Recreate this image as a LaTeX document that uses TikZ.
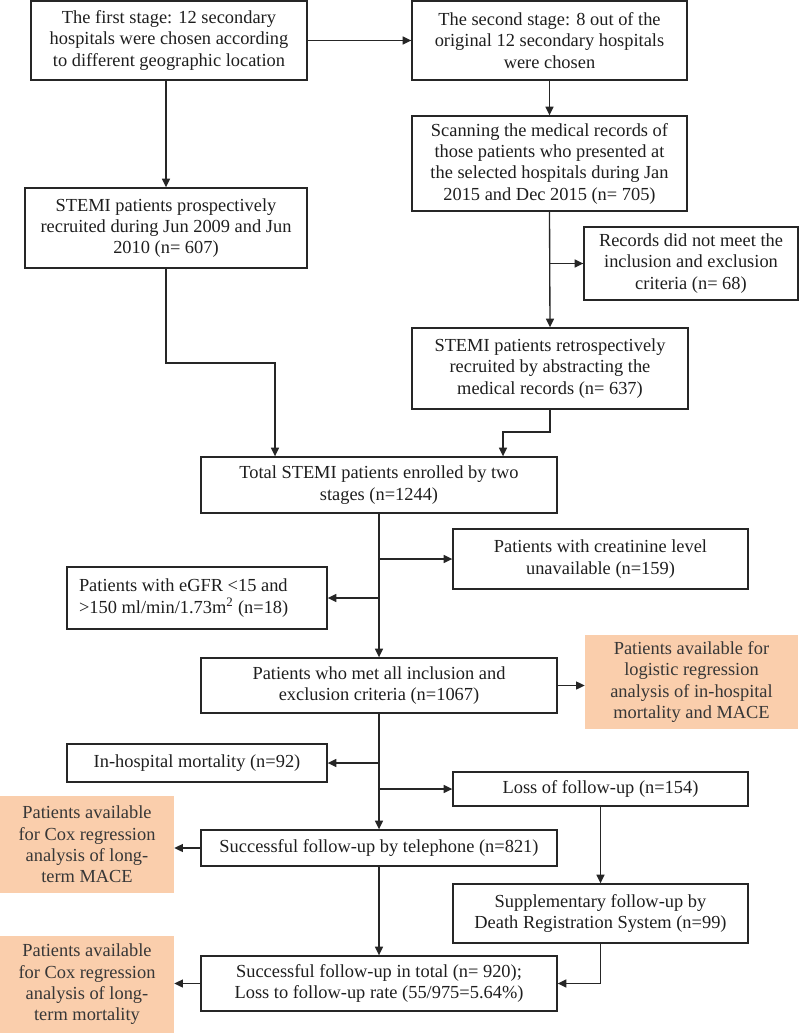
\documentclass[tikz,border=0pt]{standalone}
\usepackage{fontspec}
\setmainfont{Liberation Serif}
\usetikzlibrary{arrows.meta}
\definecolor{peach}{RGB}{250,206,172}
\definecolor{txt}{RGB}{30,30,30}
\definecolor{otxt}{RGB}{55,55,55}
\newcommand{\fbx}[7]{%
  \node[#6, minimum width={(#4-#2)*0.75pt}, minimum height={(#5-#3)*0.75pt}]
    (#1) at ({(#2+#4)/2},{(#3+#5)/2}) {#7};}
\tikzset{
  box/.style={draw=black!85, line width=1pt, inner sep=0pt, align=center, text=txt,
    font=\fontsize{13.8}{16}\selectfont},
  obox/.style={fill=peach, draw=none, inner sep=0pt, align=center, text=otxt,
    font=\fontsize{13.8}{16}\selectfont},
  arr/.style={draw=black!85, line width=1pt, -{Triangle[length=6.5pt,width=6pt]}}
}
\begin{document}
\begin{tikzpicture}[x=0.75pt,y=-0.75pt]
\useasboundingbox (0,0) rectangle (800,1034);
\fbx{b1}{31}{1}{307}{80}{box}{The first stage: 12 secondary\\hospitals were chosen according\\to different geographic location}
\fbx{b2}{412}{1}{687}{80}{box}{The second stage: 8 out of the\\original 12 secondary hospitals\\were chosen}
\fbx{b3}{412}{116}{687}{211}{box}{Scanning the medical records of\\those patients who presented at\\the selected hospitals during Jan\\2015 and Dec 2015 (n= 705)}
\fbx{b4}{25}{188}{307}{268}{box}{STEMI patients prospectively\\recruited during Jun 2009 and Jun\\2010 (n= 607)}
\fbx{b5}{584}{227}{798}{300}{box}{Records did not meet the\\inclusion and exclusion\\criteria (n= 68)}
\fbx{b6}{412}{328}{688}{409}{box}{STEMI patients retrospectively\\recruited by abstracting the\\medical records (n= 637)}
\fbx{b7}{201}{457}{557}{513}{box}{Total STEMI patients enrolled by two\\stages (n=1244)}
\fbx{b8}{453}{529}{748}{589}{box}{Patients with creatinine level\\unavailable (n=159)}
\fbx{b9}{67}{567}{327}{629}{box}{\parbox{236\dimexpr0.75pt\relax}{\raggedright Patients with eGFR <15 and\\>150 ml/min/1.73m\textsuperscript{2} (n=18)}}
\fbx{b10}{201}{658}{557}{713}{box}{Patients who met all inclusion and\\exclusion criteria (n=1067)}
\fbx{o11}{585}{635}{798}{729}{obox}{Patients available for\\logistic regression\\analysis of in-hospital\\mortality and MACE}
\fbx{b13}{67}{744}{327}{782}{box}{In-hospital mortality (n=92)}
\fbx{b14}{453}{772}{748}{806}{box}{Loss of follow-up (n=154)}
\fbx{b12}{201}{830}{557}{866}{box}{Successful follow-up by telephone (n=821)}
\fbx{o15}{0}{796}{174}{893}{obox}{Patients available\\for Cox regression\\analysis of long-\\term MACE}
\fbx{b16}{453}{884}{748}{943}{box}{Supplementary follow-up by\\Death Registration System (n=99)}
\fbx{b17}{201}{956}{557}{1011}{box}{Successful follow-up in total (n= 920);\\Loss to follow-up rate (55/975=5.64\%)}
\fbx{o18}{0}{936}{174}{1033}{obox}{Patients available\\for Cox regression\\analysis of long-\\term mortality}
% connectors
\draw[arr] (b1.east) -- (b2.west);
\draw[arr] (b2.south) -- (b3.north);
\draw[arr] (b4.north |- b1.south) -- (b4.north);
\draw[arr] (b3.south) -- (b6.north);
\draw[arr] (b3.south |- b5.west) -- (b5.west);
\coordinate (j1) at (275,363);
\coordinate (j2) at (503,432);
\draw[arr] (b4.south) |- (j1) -- (j1 |- b7.north);
\draw[arr] (b6.south) |- (j2) -- (j2 |- b7.north);
\draw[arr] (b7.south) -- (b10.north);
\draw[arr] (b7.south |- b8.west) -- (b8.west);
\draw[arr] (b7.south |- b9.east) -- (b9.east);
\draw[arr] (b10.east) -- (o11.west |- b10.east);
\draw[arr] (b10.south) -- (b12.north);
\draw[arr] (b10.south |- b13.east) -- (b13.east);
\draw[arr] (b10.south |- b14.west) -- (b14.west);
\draw[arr] (b12.west) -- (o15.east |- b12.west);
\draw[arr] (b14.south) -- (b16.north);
\draw[arr] (b12.south) -- (b17.north);
\draw[arr] (b16.south) |- (b17.east);
\draw[arr] (b17.west) -- (o18.east |- b17.west);
\end{tikzpicture}
\end{document}
